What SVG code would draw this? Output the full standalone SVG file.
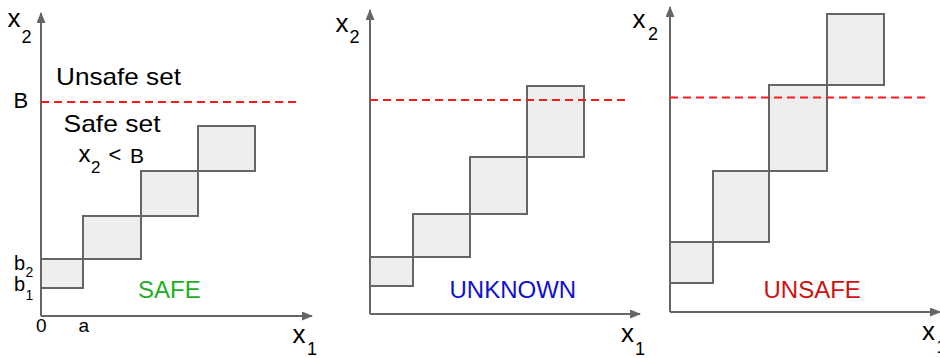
<svg xmlns="http://www.w3.org/2000/svg" width="940" height="358" viewBox="0 0 940 358">
<style>
text{font-family:"Liberation Sans",Arial,sans-serif;fill:#000}
.box{fill:#eeeeee;stroke:#666;stroke-width:2}
.axis{stroke:#666;stroke-width:2;fill:none}
.bound{stroke:#ff1a1a;stroke-width:2;stroke-dasharray:8,5;fill:none}
.big{font-size:26px}
.sub{font-size:18px}
.res{font-size:24px}
</style>
<defs>
<marker id="arr" markerUnits="userSpaceOnUse" markerWidth="11" markerHeight="9" refX="10" refY="4.5" orient="auto">
<path d="M0,0 L11,4.5 L0,9 z" fill="#666"/>
</marker>
</defs>
<rect width="940" height="358" fill="#fff"/>

<!-- Panel 1 boxes -->
<g id="p1-box1"><rect class="box" x="41" y="259" width="42" height="29"/></g>
<g id="p1-box2"><rect class="box" x="83" y="216" width="58" height="43"/></g>
<g id="p1-box3"><rect class="box" x="141" y="171" width="57" height="45"/></g>
<g id="p1-box4"><rect class="box" x="198" y="126" width="57" height="45"/></g>

<!-- Panel 2 boxes -->
<g id="p2-box1"><rect class="box" x="370" y="257" width="43" height="29"/></g>
<g id="p2-box2"><rect class="box" x="413" y="214" width="57" height="43"/></g>
<g id="p2-box3"><rect class="box" x="470" y="157" width="57" height="57"/></g>
<g id="p2-box4"><rect class="box" x="527" y="86" width="57" height="71"/></g>

<!-- Panel 3 boxes -->
<g id="p3-box1"><rect class="box" x="670" y="242" width="43" height="41"/></g>
<g id="p3-box2"><rect class="box" x="713" y="171" width="56" height="71"/></g>
<g id="p3-box3"><rect class="box" x="769" y="85" width="58" height="86"/></g>
<g id="p3-box4"><rect class="box" x="827" y="14" width="57" height="71"/></g>

<g id="connectors">
<line class="axis" x1="41" y1="316" x2="41" y2="13" marker-end="url(#arr)"/>
<line class="axis" x1="41" y1="316" x2="312" y2="316" marker-end="url(#arr)"/>
<line class="axis" x1="370" y1="314" x2="370" y2="10" marker-end="url(#arr)"/>
<line class="axis" x1="370" y1="314" x2="640" y2="314" marker-end="url(#arr)"/>
<line class="axis" x1="670" y1="312" x2="670" y2="7" marker-end="url(#arr)"/>
<line class="axis" x1="670" y1="312" x2="940" y2="312" marker-end="url(#arr)"/>
<line class="bound" x1="41" y1="102" x2="300" y2="102"/>
<line class="bound" x1="370" y1="100" x2="627" y2="100"/>
<line class="bound" x1="670" y1="97.5" x2="927" y2="97.5"/>
</g>

<!-- Panel 1 labels -->
<g id="p1-labels">
<text class="big" x="7.5" y="27">x</text><text class="sub" x="21.5" y="43">2</text>
<text x="56" y="85" font-size="24" textLength="125" lengthAdjust="spacingAndGlyphs">Unsafe set</text>
<text x="13.5" y="107.5" font-size="22">B</text>
<text x="63.5" y="131.5" font-size="24" textLength="97" lengthAdjust="spacingAndGlyphs">Safe set</text>
<text x="78.5" y="162" font-size="24">x</text><text x="91" y="173" font-size="17">2</text>
<text x="108.5" y="162" font-size="22">&lt;</text><text x="130" y="162.5" font-size="21">B</text>
<text x="14" y="269.5" font-size="20">b</text><text x="25.5" y="276.5" font-size="14">2</text>
<text x="14" y="290.5" font-size="20">b</text><text x="25.5" y="299.5" font-size="14">1</text>
<text x="36" y="331.5" font-size="19">0</text>
<text x="78.5" y="331.5" font-size="19">a</text>
<text class="res" x="138" y="298.3" style="fill:#1fae1f">SAFE</text>
<text class="big" x="292.5" y="343">x</text><text class="sub" x="307" y="355">1</text>
</g>

<!-- Panel 2 labels -->
<g id="p2-labels">
<text class="big" x="335.5" y="31.5">x</text><text class="sub" x="349.5" y="43">2</text>
<text class="res" x="449.5" y="298.3" font-size="23" style="fill:#1010d0">UNKNOWN</text>
<text class="big" x="621" y="341.5">x</text><text class="sub" x="635" y="354.5">1</text>
</g>

<!-- Panel 3 labels -->
<g id="p3-labels">
<text class="big" x="632.5" y="28">x</text><text class="sub" x="648" y="40">2</text>
<text class="res" x="763.5" y="298.3" style="fill:#cc1111">UNSAFE</text>
<text class="big" x="922" y="340">x</text><text class="sub" x="936.5" y="353">1</text>
</g>
</svg>
